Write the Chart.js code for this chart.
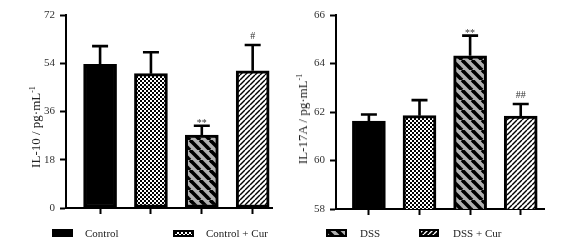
<!DOCTYPE html>
<html>
<head>
<meta charset="utf-8">
<script src="https://cdn.jsdelivr.net/npm/chart.js@4.4.1/dist/chart.umd.min.js"></script>
<style>
  html, body { margin: 0; padding: 0; background: #fff; }
  #wrap { position: relative; width: 585px; height: 243px; overflow: hidden; font-family: "Liberation Serif", serif; }
  #c1 { position: absolute; left: 0; top: 0; }
  #c2 { position: absolute; left: 292px; top: 0; }
  .sw { position: absolute; }
  .lt { position: absolute; top: 227px; font-size: 11px; line-height: 12px; color: #222; white-space: nowrap; }
  .yt { position: absolute; font-size: 13px; line-height: 14px; color: #222; white-space: nowrap;
        transform: translate(-50%, -50%) rotate(-90deg); }
</style>
</head>
<body>
<div id="wrap">
  <canvas id="c1" width="292" height="243"></canvas>
  <canvas id="c2" width="293" height="243"></canvas>

  <span class="yt" style="left:36px;top:127px">IL-10 / pg·mL<sup style="font-size:8px;line-height:0">-1</sup></span>
  <span class="yt" style="left:303px;top:119px">IL-17A / pg·mL<sup style="font-size:8px;line-height:0">-1</sup></span>

  <canvas class="sw" id="sw0" width="21" height="8" style="left:52px;top:229px"></canvas>
  <span class="lt" style="left:85px">Control</span>
  <canvas class="sw" id="sw1" width="21" height="7" style="left:173px;top:230px"></canvas>
  <span class="lt" style="left:206px">Control + Cur</span>
  <canvas class="sw" id="sw2" width="21" height="8" style="left:326px;top:229px"></canvas>
  <span class="lt" style="left:360px">DSS</span>
  <canvas class="sw" id="sw3" width="20" height="8" style="left:419px;top:229px"></canvas>
  <span class="lt" style="left:453px">DSS + Cur</span>
</div>

<script>
// groups, same order in both panels
const groups = ['Control', 'Control + Cur', 'DSS', 'DSS + Cur'];

// IL-10 panel
const il10Mean = [53.6, 50.1, 27.2, 51.2];
const il10Err = [6.8, 8.0, 3.5, 9.6];
const il10Marks = ['', '', '**', '#'];

// IL-17A panel
const il17Mean = [61.63, 61.85, 64.32, 61.83];
const il17Err = [0.27, 0.64, 0.83, 0.50];
const il17Marks = ['', '', '**', '##'];

const FONT = '"Liberation Serif", "Times New Roman", serif';

// fill patterns
function tile(w, h, draw) {
    const c = document.createElement('canvas');
    c.width = w; c.height = h;
    draw(c.getContext('2d'));
    return c;
}

const checkerTile = tile(4, 4, g => {
    g.fillStyle = '#fff'; g.fillRect(0, 0, 4, 4);
    g.fillStyle = '#000'; g.fillRect(0, 0, 2, 2); g.fillRect(2, 2, 2, 2);
});

const wideStripeTile = tile(10, 10, g => {
    g.fillStyle = '#b0b0b0'; g.fillRect(0, 0, 10, 10);
    g.strokeStyle = '#000'; g.lineWidth = 3.6;
    for (const x0 of [-10, 0, 10]) {
        g.beginPath(); g.moveTo(x0, 0); g.lineTo(x0 + 10, 10); g.stroke();
    }
});

const thinStripeTile = tile(5, 5, g => {
    g.fillStyle = '#fff'; g.fillRect(0, 0, 5, 5);
    g.strokeStyle = '#000'; g.lineWidth = 1.4;
    for (const x0 of [-5, 0, 5]) {
        g.beginPath(); g.moveTo(x0, 5); g.lineTo(x0 + 5, 0); g.stroke();
    }
});

const legendStripeTile = tile(5, 5, g => {
    g.fillStyle = '#000'; g.fillRect(0, 0, 5, 5);
    g.strokeStyle = '#fff'; g.lineWidth = 1.3;
    for (const x0 of [-5, 0, 5]) {
        g.beginPath(); g.moveTo(x0, 5); g.lineTo(x0 + 5, 0); g.stroke();
    }
});

function fills(ctx) {
    return [
        '#000',
        ctx.createPattern(checkerTile, 'repeat'),
        ctx.createPattern(wideStripeTile, 'repeat'),
        ctx.createPattern(thinStripeTile, 'repeat')
    ];
}

// error bars + significance marks, drawn from the scales
const errorBars = {
    id: 'errorBars',
    afterDatasetsDraw(chart, args, opts) {
        const { ctx, scales: { y } } = chart;
        const meta = chart.getDatasetMeta(0);
        ctx.save();
        ctx.strokeStyle = '#000';
        ctx.lineWidth = 2.6;
        meta.data.forEach((bar, i) => {
            const top = y.getPixelForValue(opts.mean[i]);
            const cap = y.getPixelForValue(opts.mean[i] + opts.err[i]);
            ctx.beginPath();
            ctx.moveTo(bar.x, top);
            ctx.lineTo(bar.x, cap);
            ctx.moveTo(bar.x - 8, cap);
            ctx.lineTo(bar.x + 8, cap);
            ctx.stroke();

            const mark = opts.marks[i];
            if (mark) {
                ctx.fillStyle = '#333';
                ctx.font = `10px ${FONT}`;
                ctx.textAlign = 'center';
                ctx.textBaseline = 'alphabetic';
                ctx.fillText(mark, bar.x, mark.includes('*') ? cap - 0 : cap - 6);
            }
        });
        ctx.restore();
    }
};

function makePanel(id, mean, err, marks, yMin, yMax, step, padding, yWidth, xMin, xMax) {
    const ctx = document.getElementById(id).getContext('2d');
    return new Chart(ctx, {
        type: 'bar',
        data: {
            labels: groups,
            datasets: [{
                data: mean.map((v, i) => ({ x: i, y: v })),
                backgroundColor: fills(ctx),
                borderColor: '#000',
                borderWidth: 3,
                borderSkipped: false,
                barThickness: 33
            }]
        },
        options: {
            responsive: false,
            animation: false,
            layout: { padding },
            plugins: {
                legend: { display: false },
                tooltip: { enabled: false },
                errorBars: { mean, err, marks }
            },
            scales: {
                x: {
                    type: 'linear',
                    min: xMin,
                    max: xMax,
                    offset: false,
                    afterBuildTicks: s => { s.ticks = [0, 1, 2, 3].map(v => ({ value: v })); },
                    afterFit: s => { s.height = 8; },
                    ticks: { display: false },
                    grid: { offset: false, drawOnChartArea: false, drawTicks: true, tickLength: 6, tickWidth: 2, tickColor: '#000' },
                    border: { color: '#000', width: 2 }
                },
                y: {
                    min: yMin,
                    max: yMax,
                    afterFit: s => { s.width = yWidth; },
                    ticks: { stepSize: step, font: { family: FONT, size: 11 }, color: '#333', padding: 5 },
                    grid: { drawOnChartArea: false, drawTicks: true, tickLength: 6, tickWidth: 2, tickColor: '#000' },
                    border: { color: '#000', width: 2 }
                }
            }
        },
        plugins: [errorBars]
    });
}

makePanel('c1', il10Mean, il10Err, il10Marks, 0, 72, 18,
    { left: 26, right: 20, top: 15, bottom: 27 }, 40, -0.67, 3.38);
makePanel('c2', il17Mean, il17Err, il17Marks, 58, 66, 2,
    { left: 0, right: 41, top: 15, bottom: 26 }, 44, -0.65, 3.46);

// legend swatches
const swatches = ['sw0', 'sw1', 'sw2', 'sw3'];
swatches.forEach((id, i) => {
    const c = document.getElementById(id);
    const g = c.getContext('2d');
    g.fillStyle = i === 3 ? g.createPattern(legendStripeTile, 'repeat') : fills(g)[i];
    g.fillRect(0, 0, c.width, c.height);
    g.strokeStyle = '#000';
    g.lineWidth = 2;
    g.strokeRect(1, 1, c.width - 2, c.height - 2);
});
</script>
</body>
</html>
